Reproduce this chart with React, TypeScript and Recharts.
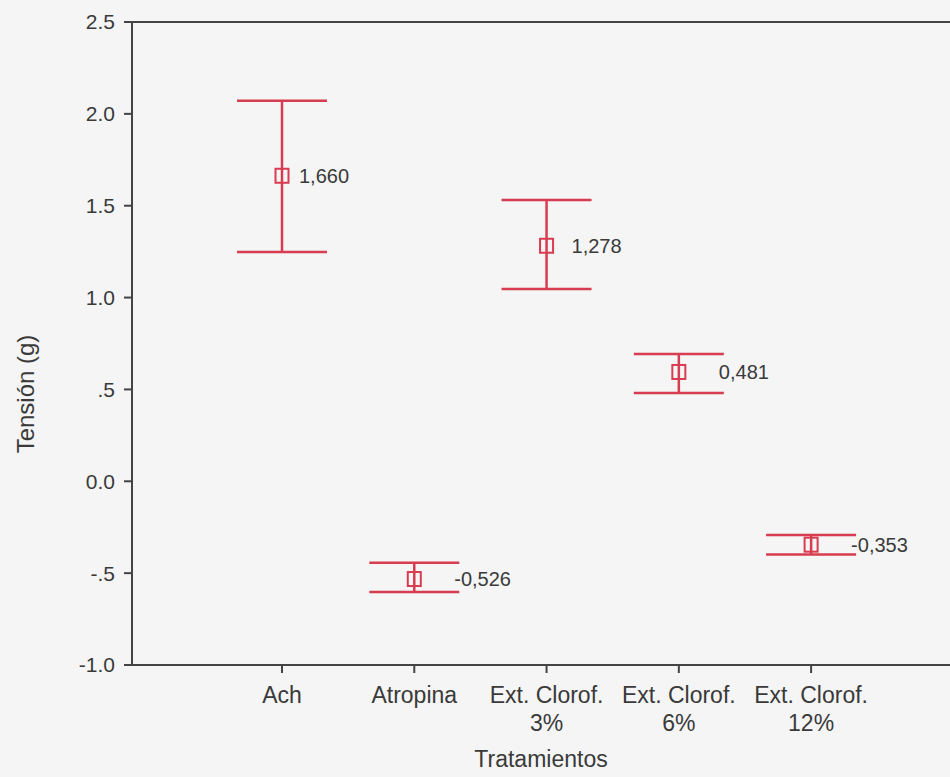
import {
    ScatterChart,
    Scatter,
    XAxis,
    YAxis,
    ErrorBar,
    ReferenceLine,
} from "recharts";

// values
const categories = [
    "Ach",
    "Atropina",
    "Ext. Clorof.\n3%",
    "Ext. Clorof.\n6%",
    "Ext. Clorof.\n12%",
];
const positions = [1, 2, 3, 4, 5];
const means = [1.663, -0.532, 1.282, 0.595, -0.345];
const upper = [2.072, -0.443, 1.531, 0.693, -0.293];
const lower = [1.248, -0.603, 1.047, 0.48, -0.398];
const valueLabels = ["1,660", "-0,526", "1,278", "0,481", "-0,353"];
const yTicks = [-1, -0.5, 0, 0.5, 1, 1.5, 2, 2.5];
const yTickLabels = ["-1.0", "-.5", "0.0", ".5", "1.0", "1.5", "2.0", "2.5"];

const RED = "#d83c50";
const INK = "#3a3a3a";
const FONT = "'Liberation Sans', Arial, sans-serif";

const data = positions.map((x, i) => ({
    x,
    y: means[i],
    err: [means[i] - lower[i], upper[i] - means[i]],
    label: valueLabels[i],
    span: upper[i] - lower[i],
}));

function Marker(props: any) {
    const { cx, cy, payload } = props;
    // short bars get their label pushed past the cap
    const dx = payload.span > 0.7 ? 17 : payload.span > 0.35 ? 25 : 40;
    return (
        <g>
            <rect
                x={cx - 6.5}
                y={cy - 7}
                width={13}
                height={14}
                fill="none"
                stroke={RED}
                strokeWidth={2}
            />
            <text
                x={cx + dx}
                y={cy}
                dominantBaseline="central"
                fontFamily={FONT}
                fontSize={20}
                fill={INK}
            >
                {payload.label}
            </text>
        </g>
    );
}

function XTick(props: any) {
    const { x, y, payload } = props;
    const lines = categories[payload.value - 1].split("\n");
    return (
        <text
            x={x}
            y={y}
            textAnchor="middle"
            fontFamily={FONT}
            fontSize={23}
            fill={INK}
        >
            {lines.map((line, i) => (
                <tspan key={i} x={x} dy={i === 0 ? 28 : 28}>
                    {line}
                </tspan>
            ))}
        </text>
    );
}

function YTitle() {
    return (
        <text
            x={0}
            y={0}
            transform="translate(34, 394) rotate(-90)"
            textAnchor="middle"
            fontFamily={FONT}
            fontSize={24}
            fill={INK}
        >
            Tensión (g)
        </text>
    );
}

export default function App() {
    return (
        <div
            style={{
                position: "absolute",
                left: 0,
                top: 0,
                width: 950,
                height: 777,
                background: "#f4f5f4",
            }}
        >
            <ScatterChart
                width={950}
                height={777}
                margin={{ top: 22, right: 0, bottom: 0, left: 0 }}
            >
                <XAxis
                    type="number"
                    dataKey="x"
                    domain={[-0.134, 6.05]}
                    ticks={positions}
                    allowDataOverflow
                    height={112}
                    tick={<XTick />}
                    tickSize={8}
                    axisLine={{ stroke: "#444", strokeWidth: 2 }}
                    tickLine={{ stroke: "#444", strokeWidth: 2 }}
                    label={{
                        value: "Tratamientos",
                        position: "insideBottom",
                        offset: 10,
                        fill: INK,
                        fontSize: 23,
                        fontFamily: FONT,
                    }}
                />
                <YAxis
                    type="number"
                    dataKey="y"
                    domain={[-1, 2.5]}
                    ticks={yTicks}
                    width={132}
                    tickSize={8}
                    tickMargin={9}
                    tickFormatter={(v: number) => yTickLabels[yTicks.indexOf(v)]}
                    tick={{ fill: INK, fontSize: 21, fontFamily: FONT }}
                    axisLine={{ stroke: "#444", strokeWidth: 2 }}
                    tickLine={{ stroke: "#444", strokeWidth: 2 }}
                    label={<YTitle />}
                />
                <ReferenceLine y={2.5} stroke="#444" strokeWidth={2} />
                <Scatter
                    data={data}
                    shape={<Marker />}
                    isAnimationActive={false}
                >
                    <ErrorBar
                        dataKey="err"
                        direction="y"
                        width={45}
                        stroke={RED}
                        strokeWidth={2.5}
                        isAnimationActive={false}
                    />
                </Scatter>
            </ScatterChart>
        </div>
    );
}
